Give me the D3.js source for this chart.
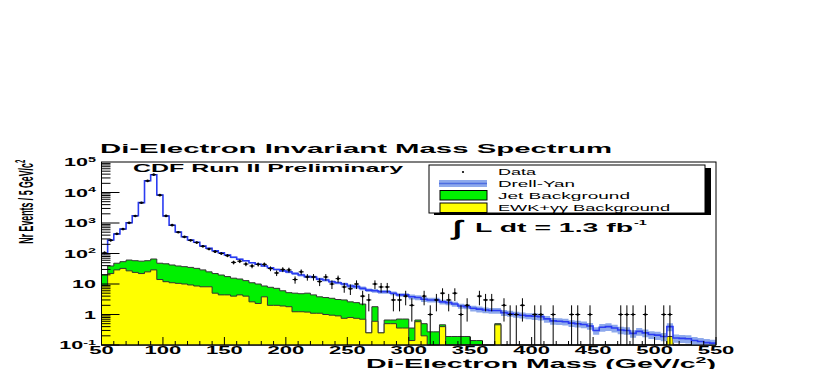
<!DOCTYPE html>
<html>
<head>
<meta charset="utf-8">
<script src="https://cdnjs.cloudflare.com/ajax/libs/d3/7.8.5/d3.min.js"></script>
<style>
body { margin: 0; background: #fff; }
svg { display: block; }
text { font-family: "Liberation Sans", Arial, Helvetica, sans-serif; }
</style>
</head>
<body>
<svg id="chart" width="814" height="369"></svg>
<script>
// histogram binning (GeV/c^2)
const massMin = 50;
const massMax = 550;
const binWidth = 5;

// stacked levels, one value per 5 GeV bin (50..545)
// blue line = Drell-Yan + jets + EWK
const dyStack = [
  100, 277, 436, 636, 1020, 1730, 4650, 24300, 38000, 8300,
  1700, 840, 505, 355, 277, 233, 177, 148, 123, 106,
  89, 75, 65, 58, 50, 44.6, 39, 34, 30, 27,
  25, 22, 19.7, 17.4, 17, 14.5, 13.5, 11.9, 11, 10,
  8.6, 8.2, 7.2, 6.3, 6, 5.6, 5.6, 5, 4.4, 4.4,
  3.8, 3.6, 3.15, 3, 3, 2.6, 2.45, 2.2, 1.9, 1.8,
  1.6, 1.5, 1.4, 1.35, 1.35, 1.15, 1.08, 1.0, 0.95, 0.9,
  0.88, 0.85, 0.72, 0.62, 0.6, 0.58, 0.52, 0.5, 0.47, 0.42,
  0.3, 0.38, 0.4, 0.36, 0.31, 0.3, 0.24, 0.28, 0.25, 0.22,
  0.21, 0.19, 0.4, 0.17, 0.165, 0.16, 0.14, 0.13, 0.12, 0.115
];
// green top = jets + EWK
const jetStack = [
  20, 39, 48, 54, 61, 58, 56, 58, 66, 48,
  46, 42, 39, 37, 35, 32.5, 29, 25, 22, 19.7,
  17.5, 15.5, 14.6, 12.9, 11, 10, 8.6, 7.8, 7.2, 6,
  5.2, 5, 4.8, 5, 4.4, 3.8, 3.6, 3.4, 3.1, 3,
  2.6, 2.45, 2.2, 0.25, 1.8, 0.25, 0.66, 0.66, 0.71, 0.71,
  0.36, 0.66, 0.5, 0.27, 0.27, 0.46, 0.19, 0.19, 0.19, 0.19,
  0.14, 0.14, 0, 0, 0.5, 0, 0, 0, 0, 0,
  0, 0, 0, 0, 0, 0, 0, 0, 0, 0,
  0, 0, 0, 0, 0, 0, 0, 0, 0, 0,
  0, 0, 0.19, 0, 0, 0, 0, 0, 0, 0
];
// yellow = EWK + gamma gamma
const ewk = [
  9, 22, 29, 32.5, 27, 24, 22, 25, 29, 14,
  11.9, 11, 10.5, 10, 9.3, 8.6, 8.1, 8.1, 5, 4.4,
  4.4, 4.0, 4.4, 4.0, 2.6, 2.3, 3.8, 2.0, 2.0, 1.9,
  1.8, 1.23, 1.23, 1.2, 1.1, 1.1, 1.0, 0.95, 0.9, 0.75,
  0.8, 0.75, 0.7, 0.25, 0.6, 0.25, 0.5, 0.5, 0.36, 0.36,
  0.14, 0.58, 0.2, 0, 0, 0.4, 0, 0, 0, 0,
  0, 0, 0, 0, 0.46, 0, 0, 0, 0, 0,
  0, 0, 0, 0, 0, 0, 0, 0, 0, 0,
  0, 0, 0, 0, 0, 0, 0, 0, 0, 0,
  0, 0, 0.19, 0, 0, 0, 0, 0, 0, 0
];
// observed events per bin
const dataCounts = [
  105, 270, 440, 630, 1010, 1700, 4600, 24000, 38500, 8200,
  1710, 850, 500, 350, 270, 228, 172, 140, 115, 100,
  85, 51, 56, 45, 39, 44, 44, 32, 23, 30,
  29, 14, 25, 17, 17, 12, 17, 10, 15, 8,
  7, 10, 4, 3, 10, 8, 8, 3, 3, 4,
  2, 0, 4, 1, 3, 5, 3, 5, 1, 2,
  0, 4, 3, 3, 0, 2, 1, 1, 2, 0,
  1, 1, 0, 1, 0, 0, 1, 1, 0, 1,
  0, 0, 0, 0, 1, 1, 1, 0, 1, 0,
  0, 1, 1, 0, 0, 0, 0, 0, 0, 0
];
// relative width of the Drell-Yan uncertainty band, per 50 GeV
const dyBandErr = [0.04, 0.04, 0.06, 0.1, 0.14, 0.18, 0.22, 0.25, 0.28, 0.3];

const xTicks = [50, 100, 150, 200, 250, 300, 350, 400, 450, 500, 550];
const yTicks = [1e5, 1e4, 1e3, 100, 10, 1, 0.1];
const yTickBase = ['10', '10', '10', '10', '10', '1', '10'];
const yTickExp = ['5', '4', '3', '2', '', '', '-1'];

const legendLabels = ['Data', 'Drell-Yan', 'Jet Background', 'EWK+\u03b3\u03b3 Background'];

const svg = d3.select('#chart');
const pLeft = 101.5, pRight = 716, pTop = 162, pBottom = 345;

const x = d3.scaleLinear().domain([massMin, massMax]).range([pLeft, pRight]);
const y = d3.scaleLog().domain([0.1, 1e5]).range([pBottom, pTop]);
const yc = v => y(Math.max(v, 0.1));

// step outline of a histogram, closed down to the axis
function stepPoints(vals) {
  const pts = [[x(massMin), pBottom]];
  vals.forEach((v, i) => {
    const lo = massMin + i * binWidth;
    pts.push([x(lo), yc(v)], [x(lo + binWidth), yc(v)]);
  });
  pts.push([x(massMax), pBottom]);
  return pts;
}
const line = d3.line();

svg.append('rect').attr('x', pLeft).attr('y', pTop).attr('width', pRight - pLeft).attr('height', pBottom - pTop).attr('fill', '#fff');

const plot = svg.append('g');

plot.append('path').attr('d', line(stepPoints(jetStack)) + 'Z')
  .attr('fill', '#00f000').attr('stroke', '#333').attr('stroke-width', 1);
plot.append('path').attr('d', line(stepPoints(ewk)) + 'Z')
  .attr('fill', '#ffff00').attr('stroke', '#333').attr('stroke-width', 1);

// Drell-Yan band + line
const bandPts = [];
dyStack.forEach((v, i) => {
  const lo = massMin + i * binWidth;
  const err = dyBandErr[Math.floor(i * binWidth / 50)];
  bandPts.push({ x: x(lo), v, err }, { x: x(lo + binWidth), v, err });
});
plot.append('path')
  .attr('d', d3.area().x(d => d.x).y0(d => yc(d.v * (1 - d.err))).y1(d => yc(d.v * (1 + d.err)))(bandPts))
  .attr('fill', '#8ea9ec');

const dyPts = [];
dyStack.forEach((v, i) => {
  const lo = massMin + i * binWidth;
  dyPts.push([x(lo), yc(v)], [x(lo + binWidth), yc(v)]);
});
plot.append('path').attr('d', line(dyPts)).attr('fill', 'none')
  .attr('stroke', '#2b3cf2').attr('stroke-width', 1.6);

// data points with poisson error bars
const pts = dataCounts.map((n, i) => ({ n, c: massMin + (i + 0.5) * binWidth })).filter(d => d.n > 0);
const dg = plot.append('g').attr('stroke', '#000').attr('stroke-width', 1);
dg.selectAll('.ev').data(pts).enter().append('line')
  .attr('x1', d => x(d.c)).attr('x2', d => x(d.c))
  .attr('y1', d => yc(d.n + Math.sqrt(d.n)))
  .attr('y2', d => yc(d.n - Math.sqrt(d.n)));
dg.selectAll('.eh').data(pts).enter().append('line')
  .attr('x1', d => x(d.c) - 2.5).attr('x2', d => x(d.c) + 2.5)
  .attr('y1', d => yc(d.n)).attr('y2', d => yc(d.n));
plot.selectAll('.mk').data(pts).enter().append('circle')
  .attr('cx', d => x(d.c)).attr('cy', d => yc(d.n)).attr('r', 1.3).attr('fill', '#000');

// frame
svg.append('rect').attr('x', pLeft).attr('y', pTop).attr('width', pRight - pLeft).attr('height', pBottom - pTop)
  .attr('fill', 'none').attr('stroke', '#000').attr('stroke-width', 1);

// axis ticks
const ax = svg.append('g').attr('stroke', '#000').attr('stroke-width', 1);
for (let d = -1; d <= 4; d++) {
  for (let k = 1; k <= 9; k++) {
    const v = k * Math.pow(10, d);
    ax.append('line').attr('x1', pLeft).attr('x2', pLeft + (k === 1 ? 18 : 9))
      .attr('y1', y(v)).attr('y2', y(v));
  }
}
for (let m = massMin; m <= massMax; m += 10) {
  ax.append('line').attr('x1', x(m)).attr('x2', x(m))
    .attr('y1', pBottom).attr('y2', pBottom - (m % 50 === 0 ? 8 : 4));
}

function sText(parent, px, py, sx, size, anchor, weight) {
  return parent.append('text')
    .attr('transform', `translate(${px},${py}) scale(${sx},1)`)
    .attr('text-anchor', anchor)
    .attr('font-size', size)
    .attr('font-weight', weight || 'bold');
}

// tick labels
xTicks.forEach(t => {
  sText(svg, x(t), 353.8, 2.1, 10.5, 'middle').text(t);
});
yTicks.forEach((t, i) => {
  const tx = sText(svg, 96, y(t) + 4, 2.05, 10.5, 'end');
  tx.append('tspan').text(yTickBase[i]);
  if (yTickExp[i]) tx.append('tspan').attr('font-size', 7).attr('dy', -4.5).text(yTickExp[i]);
});

// axis titles
const xl = sText(svg, 716, 367.6, 2.3, 12.4, 'end');
xl.append('tspan').text('Di-Electron Mass (GeV/c');
xl.append('tspan').attr('font-size', 8.5).attr('dy', -5).text('2');
xl.append('tspan').attr('dy', 5).text(')');

const yl = svg.append('text')
  .attr('transform', 'translate(33,201.7) scale(2.4,1) rotate(-90)')
  .attr('text-anchor', 'middle').attr('font-size', 8.8).attr('font-weight', 'bold');
yl.append('tspan').text('Nr Events / 5 GeV/c');
yl.append('tspan').attr('font-size', 6).attr('dy', -3.5).text('2');

// titles
svg.append('text').attr('x', 100).attr('y', 153).attr('font-size', 13).attr('font-weight', 'bold')
  .attr('textLength', 512).attr('lengthAdjust', 'spacingAndGlyphs')
  .text('Di-Electron Invariant Mass Spectrum');
svg.append('text').attr('x', 133).attr('y', 171.5).attr('font-size', 11.5).attr('font-weight', 'bold')
  .attr('textLength', 270).attr('lengthAdjust', 'spacingAndGlyphs')
  .text('CDF Run II Preliminary');

// legend
const lg = svg.append('g');
lg.append('rect').attr('x', 434).attr('y', 168).attr('width', 277).attr('height', 47).attr('fill', '#000');
lg.append('rect').attr('x', 429).attr('y', 165).attr('width', 276).attr('height', 48)
  .attr('fill', '#fff').attr('stroke', '#000').attr('stroke-width', 1);
lg.append('circle').attr('cx', 463).attr('cy', 172).attr('r', 1.1).attr('fill', '#000');
lg.append('rect').attr('x', 439).attr('y', 180).attr('width', 48).attr('height', 7).attr('fill', '#8ea9ec');
lg.append('line').attr('x1', 439).attr('x2', 487).attr('y1', 183.5).attr('y2', 183.5)
  .attr('stroke', '#4d6de0').attr('stroke-width', 1.5);
lg.append('rect').attr('x', 440).attr('y', 190.5).attr('width', 47).attr('height', 9.5)
  .attr('fill', '#00f000').attr('stroke', '#000');
lg.append('rect').attr('x', 440).attr('y', 203).attr('width', 47).attr('height', 9.5)
  .attr('fill', '#ffff00').attr('stroke', '#000');
const legendY = [175, 186.5, 198.5, 211];
const legendW = [38, 77, 132, 172];
legendLabels.forEach((s, i) => {
  lg.append('text').attr('x', 498).attr('y', legendY[i]).attr('font-size', 8.3)
    .attr('textLength', legendW[i]).attr('lengthAdjust', 'spacingAndGlyphs').text(s);
});

// luminosity
svg.append('text').attr('transform', 'translate(453,235) scale(1.6,1)')
  .attr('font-family', 'DejaVu Sans').attr('font-weight', 'bold').attr('font-size', 21).text('\u222b');
svg.append('text').attr('x', 475).attr('y', 231.7).attr('font-size', 12.5).attr('font-weight', 'bold')
  .attr('textLength', 158).attr('lengthAdjust', 'spacingAndGlyphs').text('L dt = 1.3 fb');
sText(svg, 634, 225, 1.8, 8, 'start').text('-1');
</script>
</body>
</html>
